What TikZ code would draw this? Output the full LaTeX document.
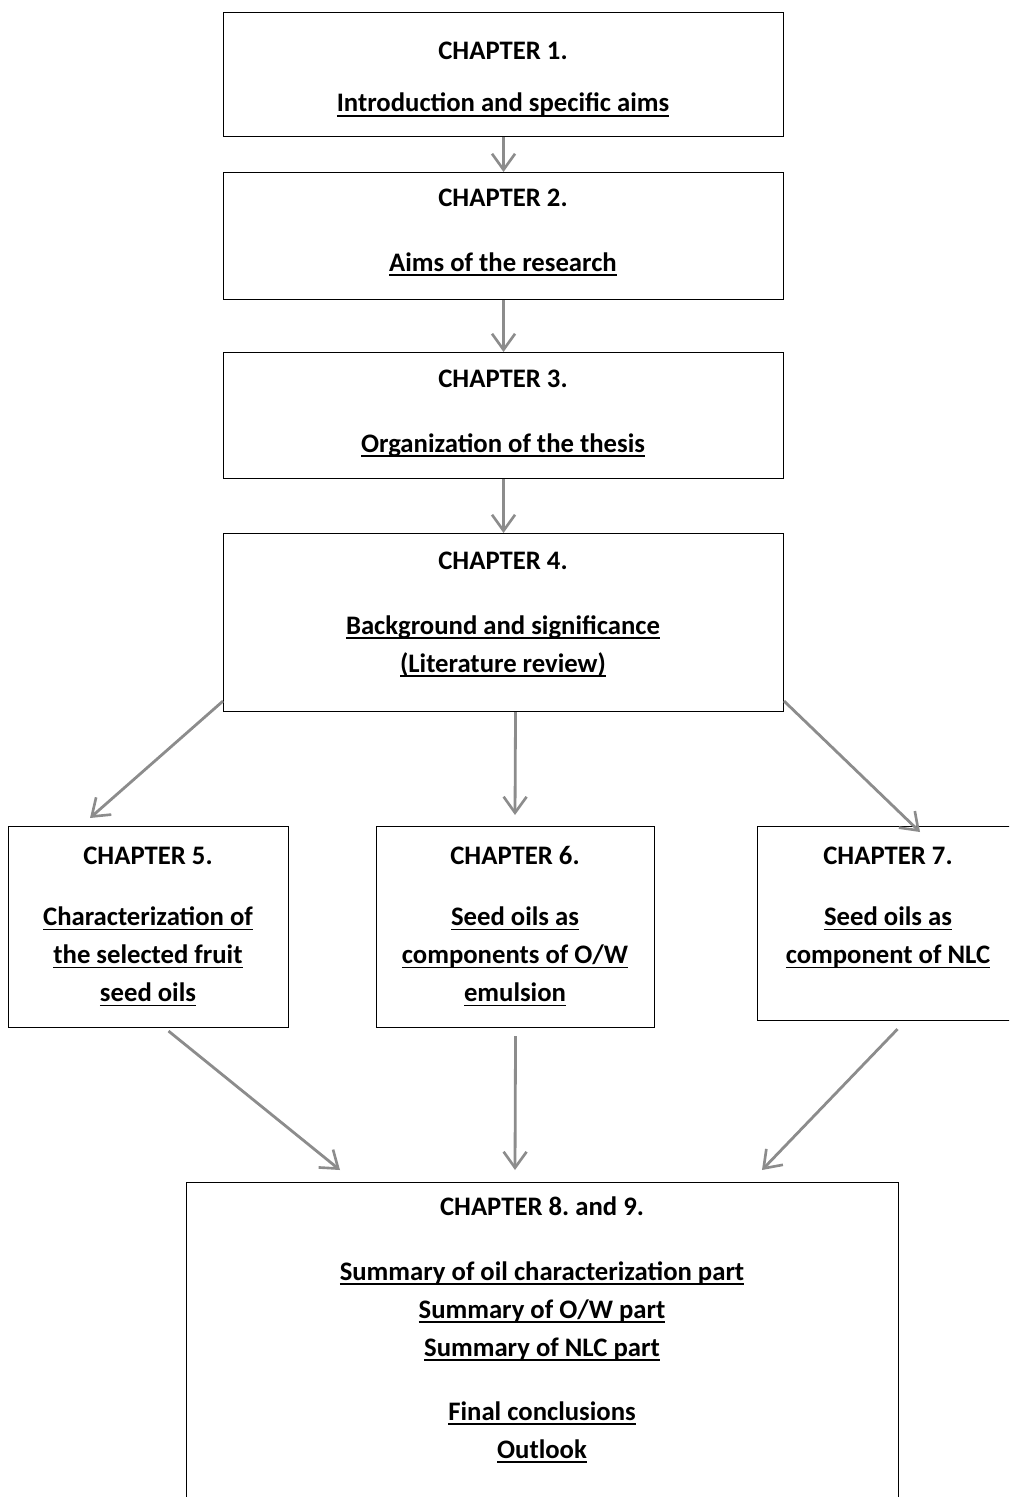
\documentclass[tikz,border=0pt]{standalone}
\usepackage{fontspec}
\setmainfont{Carlito}
\usetikzlibrary{arrows.meta, positioning, calc}
\frenchspacing

% thick underline as in the word-processor original
\newcommand{\ul}[1]{\leavevmode\setbox0=\hbox{#1}\rlap{\copy0}\raisebox{-2.7pt}{\rule{\wd0}{1pt}}}

\begin{document}
\begin{tikzpicture}[
  x=0.02cm, y=-0.02cm,
  font=\fontsize{15.2}{21.6}\selectfont\bfseries,
  box/.style={draw=black, line width=0.6pt, anchor=north west, inner sep=0pt},
  txt/.style={align=center, anchor=north, inner sep=0pt},
  arr/.style={-{Straight Barb[length=3.2mm, width=4.6mm, line width=1.5pt]}, line width=1.6pt, black!45}]

\useasboundingbox (0,0) rectangle (1009,1497);
\clip (0,0) rectangle (1009,1497);

% ---------- top column of chapters
\node[box, minimum width=560*0.02cm, minimum height=124*0.02cm] (c1) at (223,12) {};
\node[box, minimum width=560*0.02cm, minimum height=127*0.02cm] (c2) at (223,172) {};
\node[box, minimum width=560*0.02cm, minimum height=126*0.02cm] (c3) at (223,352) {};
\node[box, minimum width=560*0.02cm, minimum height=178*0.02cm] (c4) at (223,533) {};

\node[txt] (t1) at (503,33)  {\strut CHAPTER 1.\\[8pt] \ul{Introduction and specific aims}};
\node[txt] (t2) at (503,180) {\strut CHAPTER 2.\\[15pt] \ul{Aims of the research}};
\node[txt] (t3) at (503,361) {\strut CHAPTER 3.\\[15pt] \ul{Organization of the thesis}};
\node[txt] (t4) at (503,543) {\strut CHAPTER 4.\\[15pt] \ul{Background and significance}\\ \ul{(Literature review)}};

% ---------- middle row
\node[box, minimum width=280*0.02cm, minimum height=201*0.02cm] (c5) at (8,826) {};
\node[box, minimum width=278*0.02cm, minimum height=201*0.02cm] (c6) at (376,826) {};
\node[box, minimum width=262*0.02cm, minimum height=194*0.02cm] (c7) at (757,826) {};

\node[txt] (t5) at (148,838) {\strut CHAPTER 5.\\[13pt] \ul{Characterization of}\\ \ul{the selected fruit}\\ \ul{seed oils}};
\node[txt] (t6) at (515,838) {\strut CHAPTER 6.\\[13pt] \ul{Seed oils as}\\ \ul{components of O/W}\\ \ul{emulsion}};
\node[txt] (t7) at (888,838) {\strut CHAPTER 7.\\[13pt] \ul{Seed oils as}\\ \ul{component of NLC}};

% ---------- summary box (runs off the page at the bottom)
\node[box, minimum width=712*0.02cm, minimum height=360*0.02cm] (c8) at (186,1182) {};
\node[txt] (t8) at (542,1189) {\strut CHAPTER 8. and 9.\\[15pt] \ul{Summary of oil characterization part}\\ \ul{Summary of O/W part}\\ \ul{Summary of NLC part}\\[15pt] \ul{Final conclusions}\\ \ul{Outlook}};

% ---------- arrows down the top column
\draw[arr] (c1.south) -- (c2.north);
\draw[arr] (c2.south) -- (c3.north);
\draw[arr] (c3.south) -- (c4.north);

% ---------- chapter 4 fans out
\coordinate (e5) at (90,818);
\coordinate (e6) at (515,815);
\coordinate (e7) at (920,832);
\draw[arr] ($(c4.south west)+(0,-11)$) -- (e5);
\draw[arr] ($(c4.south)+(12,0)$) -- (e6);
\draw[arr] ($(c4.south east)+(0,-11)$) -- (e7);

% ---------- and comes back together
\coordinate (f5) at (340,1170);
\coordinate (f6) at (515,1170);
\coordinate (f7) at (762,1170);
\draw[arr] ($(c5.south)+(20,3)$) -- (f5);
\draw[arr] ($(c6.south)+(0,8)$) -- (f6);
\draw[arr] ($(c7.south)+(9,8)$) -- (f7);
\end{tikzpicture}
\end{document}
